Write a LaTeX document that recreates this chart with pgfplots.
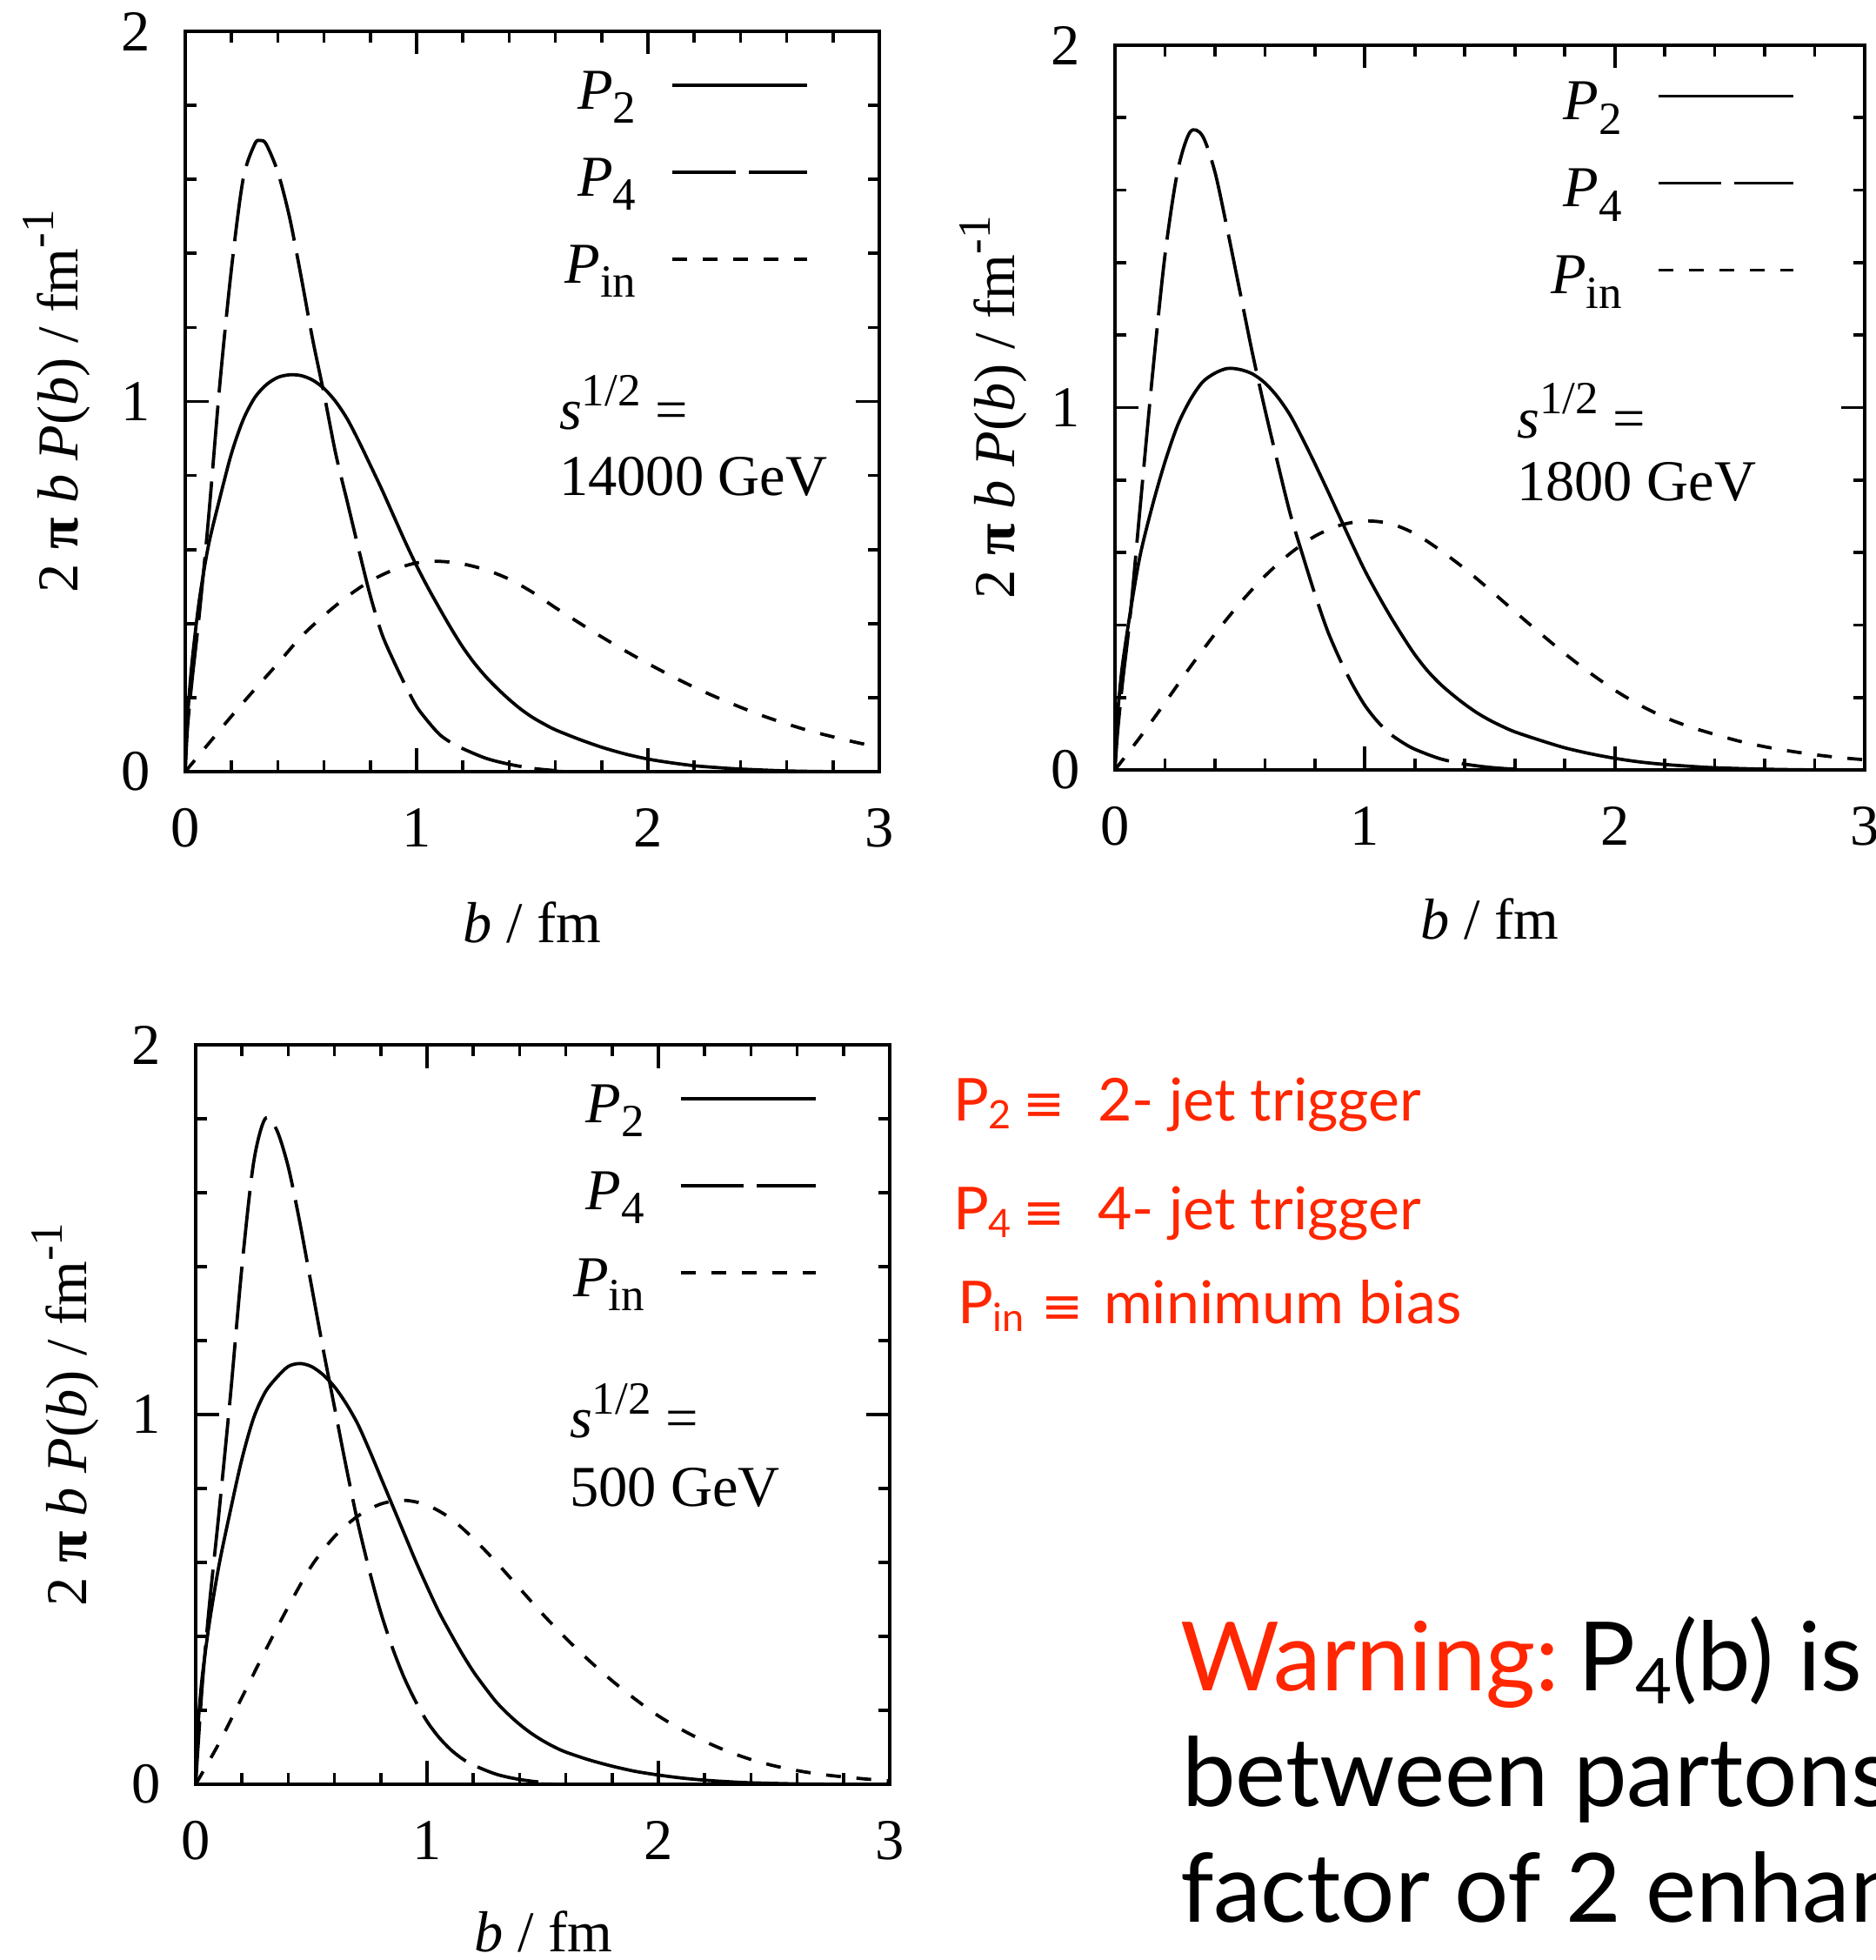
\documentclass[border=0pt]{standalone}
\usepackage{fontspec}
\usepackage{pgfplots}
\pgfplotsset{compat=1.18}
\setmainfont{Liberation Serif}
\newfontfamily\gill{Lato}
\newfontfamily\dejavu{DejaVu Sans}
\definecolor{kred}{RGB}{255,38,0}
\newcommand{\sub}[1]{\raisebox{-3.3pt}{\fontsize{10.6}{12}\selectfont #1}}
\newcommand{\super}[1]{\raisebox{5.5pt}{\fontsize{10.6}{12}\selectfont #1}}
\newcommand{\rsub}[1]{\raisebox{-1.8pt}{\fontsize{9}{10}\selectfont #1}}
\newcommand{\wsub}[1]{\raisebox{-3pt}{\fontsize{14.5}{16}\selectfont #1}}
\pgfplotsset{
  myax/.style={
    scale only axis, xmin=0, xmax=3, ymin=0, ymax=2,
    xtick={0,1,2,3}, ytick={0,1,2},
    minor x tick num=4, minor y tick num=4,
    tick align=inside,
    major tick length=5.3pt, minor tick length=2.6pt,
    axis line style={line width=0.75pt},
    every tick/.style={line width=0.75pt, black},
    /pgf/number format/assume math mode=true,
    tick label style={font=\fontsize{13.3}{16}\selectfont},
    yticklabel style={xshift=-4.5pt},
    xticklabel style={yshift=-4.9pt},
    label style={font=\fontsize{13.3}{16}\selectfont},
    xlabel={\textit{b} / fm},
    ylabel={2 \textbf{π} \textit{b} \textit{P}(\textit{b}) / fm\super{-1}},
    legend plot pos=right,
    legend cell align=right,
    legend image code/.code={\draw[#1] (0pt,3pt) -- (31pt,3pt);},
    legend style={draw=none, fill=none, anchor=north east, inner sep=0pt,
      row sep=5pt, column sep=8pt, font=\fontsize{13.3}{16}\selectfont,
      nodes={inner sep=0pt, text height=10pt, text depth=5pt}},
    clip mode=individual,
  },
  p2/.style={black, line width=0.75pt, solid, line join=round, smooth, tension=0.5},
  p4/.style={black, line width=0.75pt, dash pattern=on 14.5pt off 3pt, line join=round, smooth, tension=0.5},
  pin/.style={black, line width=0.75pt, dash pattern=on 3.4pt off 3.6pt, line join=round, smooth},
}
\begin{document}
\begin{tikzpicture}
\useasboundingbox (0,0) rectangle (431.4pt,450.6pt);
\clip (0,0) rectangle (431.4pt,450.6pt);
% ---------------- 14000 GeV
\begin{axis}[myax, at={(42.6pt,273.2pt)}, anchor=south west, width=159.6pt, height=170.2pt,
  xlabel style={at={(axis description cs:0.5,-0.2033)}, anchor=center},
  ylabel style={at={(axis description cs:-0.1855,0.5)}, anchor=center},
  legend style={at={(axis description cs:0.90,0.955)}}]
\addplot[p2] coordinates {(0,0)(0.005,0.1)(0.015,0.19)(0.03,0.3)(0.06,0.46)(0.1,0.61)(0.15,0.74)(0.2,0.86)(0.25,0.95)(0.3,1.01)(0.35,1.045)(0.4,1.065)(0.45,1.072)(0.5,1.07)(0.55,1.058)(0.6,1.035)(0.65,1.0)(0.7,0.953)(0.75,0.893)(0.8,0.828)(0.85,0.762)(0.9,0.692)(0.95,0.622)(1.0,0.556)(1.05,0.496)(1.1,0.44)(1.15,0.386)(1.2,0.336)(1.25,0.293)(1.3,0.256)(1.35,0.224)(1.4,0.195)(1.45,0.169)(1.5,0.147)(1.55,0.129)(1.6,0.113)(1.7,0.088)(1.8,0.066)(1.9,0.048)(2.0,0.034)(2.1,0.024)(2.2,0.016)(2.3,0.011)(2.4,0.007)(2.6,0.002)(2.8,0)(3,0)};
\addlegendentry{\textit{P}\sub{2}}
\addplot[p4] coordinates {(0,0)(0.01,0.12)(0.03,0.25)(0.06,0.42)(0.1,0.68)(0.15,1.05)(0.2,1.36)(0.25,1.6)(0.3,1.695)(0.325,1.705)(0.35,1.695)(0.4,1.62)(0.45,1.50)(0.5,1.34)(0.55,1.17)(0.6,1.02)(0.65,0.86)(0.7,0.73)(0.75,0.60)(0.8,0.475)(0.85,0.372)(0.9,0.30)(0.95,0.235)(1.0,0.176)(1.05,0.135)(1.1,0.10)(1.15,0.078)(1.2,0.062)(1.3,0.036)(1.4,0.02)(1.5,0.009)(1.6,0.003)(1.7,0)(3,0)};
\addlegendentry{\textit{P}\sub{4}}
\addplot[pin] coordinates {(0,0)(0.1,0.075)(0.2,0.15)(0.3,0.222)(0.4,0.292)(0.5,0.364)(0.6,0.422)(0.7,0.473)(0.8,0.515)(0.9,0.545)(1.0,0.564)(1.1,0.568)(1.2,0.561)(1.3,0.545)(1.4,0.52)(1.5,0.485)(1.6,0.443)(1.7,0.403)(1.8,0.364)(1.9,0.327)(2.0,0.292)(2.1,0.259)(2.2,0.228)(2.3,0.200)(2.4,0.174)(2.5,0.150)(2.6,0.129)(2.7,0.110)(2.8,0.094)(2.9,0.079)(3.0,0.066)};
\addlegendentry{\textit{P}\sub{in}}
\node[anchor=base west, inner sep=0pt, font=\fontsize{13.3}{16}\selectfont] at (axis cs:1.613,0.924) {\textit{s}\super{1/2} =};
\node[anchor=base west, inner sep=0pt, font=\fontsize{13.3}{16}\selectfont] at (axis cs:1.613,0.747) {14000 GeV};
\end{axis}
% ---------------- 1800 GeV
\begin{axis}[myax, at={(256.4pt,273.6pt)}, anchor=south west, width=172.4pt, height=166.6pt,
  xlabel style={at={(axis description cs:0.5,-0.2053)}, anchor=center},
  ylabel style={at={(axis description cs:-0.1624,0.5)}, anchor=center},
  legend style={at={(axis description cs:0.908,0.958)}}]
\addplot[p2] coordinates {(0,0)(0.005,0.1)(0.015,0.19)(0.03,0.29)(0.06,0.43)(0.1,0.59)(0.15,0.73)(0.2,0.85)(0.25,0.95)(0.3,1.02)(0.35,1.07)(0.4,1.095)(0.45,1.108)(0.5,1.105)(0.55,1.093)(0.6,1.068)(0.65,1.03)(0.7,0.98)(0.75,0.915)(0.8,0.845)(0.85,0.772)(0.9,0.697)(0.95,0.622)(1.0,0.55)(1.05,0.486)(1.1,0.426)(1.15,0.37)(1.2,0.318)(1.25,0.274)(1.3,0.238)(1.35,0.208)(1.4,0.181)(1.45,0.157)(1.5,0.137)(1.55,0.12)(1.6,0.105)(1.7,0.082)(1.8,0.061)(1.9,0.045)(2.0,0.032)(2.1,0.022)(2.2,0.015)(2.3,0.01)(2.4,0.006)(2.6,0.002)(2.8,0)(3,0)};
\addlegendentry{\textit{P}\sub{2}}
\addplot[p4] coordinates {(0,0)(0.01,0.1)(0.03,0.24)(0.06,0.42)(0.1,0.72)(0.15,1.09)(0.2,1.42)(0.25,1.65)(0.3,1.76)(0.35,1.75)(0.4,1.65)(0.45,1.49)(0.5,1.32)(0.55,1.15)(0.6,0.995)(0.65,0.85)(0.7,0.71)(0.75,0.595)(0.8,0.485)(0.85,0.385)(0.9,0.305)(0.95,0.236)(1.0,0.178)(1.05,0.134)(1.1,0.10)(1.15,0.076)(1.2,0.057)(1.3,0.031)(1.4,0.016)(1.5,0.007)(1.6,0.002)(1.7,0)(3,0)};
\addlegendentry{\textit{P}\sub{4}}
\addplot[pin] coordinates {(0,0)(0.1,0.09)(0.2,0.185)(0.3,0.283)(0.4,0.375)(0.5,0.46)(0.6,0.535)(0.7,0.597)(0.8,0.645)(0.9,0.675)(1.0,0.687)(1.1,0.68)(1.2,0.652)(1.3,0.607)(1.4,0.555)(1.5,0.497)(1.6,0.437)(1.7,0.378)(1.8,0.321)(1.9,0.268)(2.0,0.22)(2.1,0.179)(2.2,0.145)(2.3,0.119)(2.4,0.098)(2.5,0.079)(2.6,0.064)(2.7,0.052)(2.8,0.042)(2.9,0.034)(3.0,0.028)};
\addlegendentry{\textit{P}\sub{in}}
\node[anchor=base west, inner sep=0pt, font=\fontsize{13.3}{16}\selectfont] at (axis cs:1.605,0.917) {\textit{s}\super{1/2} =};
\node[anchor=base west, inner sep=0pt, font=\fontsize{13.3}{16}\selectfont] at (axis cs:1.605,0.744) {1800 GeV};
\end{axis}
% ---------------- 500 GeV
\begin{axis}[myax, at={(45pt,40.4pt)}, anchor=south west, width=159.6pt, height=170pt,
  xlabel style={at={(axis description cs:0.501,-0.199)}, anchor=center},
  ylabel style={at={(axis description cs:-0.188,0.5)}, anchor=center},
  legend style={at={(axis description cs:0.897,0.955)}}]
\addplot[p2] coordinates {(0,0)(0.005,0.1)(0.015,0.2)(0.03,0.3)(0.06,0.44)(0.1,0.59)(0.15,0.74)(0.2,0.88)(0.25,0.99)(0.3,1.06)(0.35,1.10)(0.4,1.13)(0.45,1.138)(0.5,1.13)(0.55,1.108)(0.6,1.075)(0.65,1.03)(0.7,0.975)(0.75,0.905)(0.8,0.83)(0.85,0.755)(0.9,0.68)(0.95,0.605)(1.0,0.535)(1.05,0.468)(1.1,0.41)(1.15,0.355)(1.2,0.305)(1.25,0.262)(1.3,0.222)(1.35,0.19)(1.4,0.162)(1.45,0.138)(1.5,0.118)(1.55,0.101)(1.6,0.087)(1.7,0.066)(1.8,0.049)(1.9,0.035)(2.0,0.025)(2.1,0.017)(2.2,0.011)(2.3,0.007)(2.4,0.004)(2.6,0.001)(2.8,0)(3,0)};
\addlegendentry{\textit{P}\sub{2}}
\addplot[p4] coordinates {(0,0)(0.01,0.1)(0.03,0.28)(0.06,0.49)(0.1,0.73)(0.15,1.05)(0.2,1.40)(0.25,1.68)(0.3,1.80)(0.35,1.77)(0.4,1.67)(0.45,1.52)(0.5,1.35)(0.55,1.18)(0.6,1.02)(0.65,0.86)(0.7,0.71)(0.75,0.58)(0.8,0.465)(0.85,0.37)(0.9,0.29)(0.95,0.225)(1.0,0.17)(1.05,0.128)(1.1,0.095)(1.15,0.07)(1.2,0.052)(1.3,0.027)(1.4,0.013)(1.5,0.005)(1.6,0)(3,0)};
\addlegendentry{\textit{P}\sub{4}}
\addplot[pin] coordinates {(0,0)(0.1,0.11)(0.2,0.235)(0.3,0.36)(0.4,0.48)(0.5,0.59)(0.6,0.67)(0.7,0.725)(0.8,0.758)(0.9,0.768)(1.0,0.755)(1.1,0.72)(1.2,0.665)(1.3,0.60)(1.4,0.53)(1.5,0.46)(1.6,0.395)(1.7,0.335)(1.8,0.28)(1.9,0.23)(2.0,0.185)(2.1,0.148)(2.2,0.116)(2.3,0.089)(2.4,0.067)(2.5,0.05)(2.6,0.037)(2.7,0.027)(2.8,0.02)(2.9,0.014)(3.0,0.009)};
\addlegendentry{\textit{P}\sub{in}}
\node[anchor=base west, inner sep=0pt, font=\fontsize{13.3}{16}\selectfont] at (axis cs:1.613,0.937) {\textit{s}\super{1/2} =};
\node[anchor=base west, inner sep=0pt, font=\fontsize{13.3}{16}\selectfont] at (axis cs:1.613,0.751) {500 GeV};
\end{axis}
% ---------------- red annotations
\begin{scope}[every node/.style={anchor=base west, inner sep=0pt, text=kred}]
\node[font=\gill\fontsize{13.6}{16}\selectfont] at (219pt,192.8pt) {P\rsub{2}};
\node[font=\dejavu\fontsize{11.5}{13}\selectfont] at (235pt,192.8pt) {≡};
\node[font=\gill\fontsize{13.6}{16}\selectfont] at (252.2pt,192.8pt) {2- jet trigger};
\node[font=\gill\fontsize{13.6}{16}\selectfont] at (219pt,167.8pt) {P\rsub{4}};
\node[font=\dejavu\fontsize{11.5}{13}\selectfont] at (235pt,167.8pt) {≡};
\node[font=\gill\fontsize{13.6}{16}\selectfont] at (252.2pt,167.8pt) {4- jet trigger};
\node[font=\gill\fontsize{13.6}{16}\selectfont] at (220pt,146.2pt) {P\rsub{in}};
\node[font=\dejavu\fontsize{11.5}{13}\selectfont] at (239.2pt,146.2pt) {≡};
\node[font=\gill\fontsize{13.6}{16}\selectfont] at (253.6pt,146.2pt) {minimum bias};
\end{scope}
% ---------------- warning
\begin{scope}[every node/.style={anchor=base west, inner sep=0pt}]
\node[font=\gill\fontsize{22}{26}\selectfont, text=kred] at (271.2pt,61.8pt) {Warning:};
\node[font=\gill\fontsize{22}{26}\selectfont] at (362.6pt,61.8pt) {P\wsub{4}(b) is};
\node[font=\gill\fontsize{22}{26}\selectfont] at (271.6pt,35.2pt) {between partons};
\node[font=\gill\fontsize{22}{26}\selectfont] at (271.2pt,8.6pt) {factor of 2 enhan};
\end{scope}
\end{tikzpicture}
\end{document}
